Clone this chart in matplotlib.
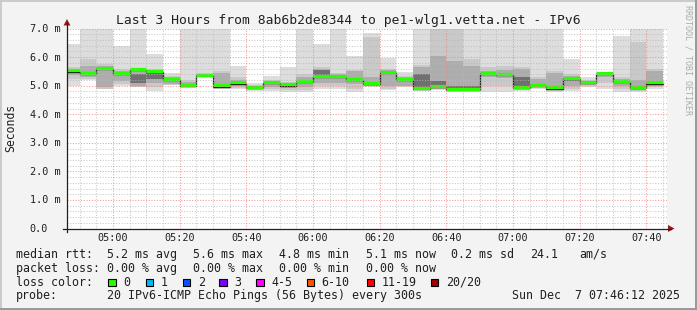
import numpy as np
import matplotlib
matplotlib.use("Agg")
import matplotlib.pyplot as plt
import matplotlib.transforms as mtransforms
from matplotlib.patches import Rectangle, Polygon
from matplotlib.lines import Line2D

# ---------------- data (milliseconds), one value per 5-minute step ----------------
step_start_min = 4 * 60 + 45          # first step starts 04:45
step_minutes = 5
view_start_min = 4 * 60 + 46.2        # 04:46:12
view_end_min = 7 * 60 + 46.2          # 07:46:12

median = [5.49, 5.40, 5.58, 5.40, 5.54, 5.48, 5.19, 4.99, 5.34, 4.97, 5.07, 4.92,
          5.08, 5.00, 5.13, 5.30, 5.31, 5.19, 5.05, 5.45, 5.19, 4.88, 4.95, 4.85,
          4.84, 5.41, 5.38, 4.92, 4.99, 4.90, 5.23, 5.10, 5.41, 5.13, 4.92, 5.07]
ping_max = [6.45, 7.0, 7.0, 6.39, 7.0, 6.10, 5.43, 7.0, 7.0, 7.0, 5.69, 5.08,
            5.35, 5.64, 7.0, 6.45, 7.0, 6.03, 6.85, 5.97, 5.48, 7.0, 7.0, 7.0,
            7.0, 7.0, 7.0, 7.0, 7.0, 7.0, 5.93, 5.29, 5.43, 6.74, 7.0, 7.0]
ping_min = [4.98, 5.20, 4.87, 5.00, 4.95, 4.82, 5.02, 4.93, 5.30, 4.88, 4.88, 4.82,
            4.82, 4.79, 4.79, 4.90, 4.90, 4.79, 4.96, 4.84, 4.96, 4.82, 4.85, 4.79,
            4.79, 4.79, 4.79, 4.82, 4.90, 4.79, 4.81, 4.96, 4.90, 4.79, 4.79, 4.90]
band2_hi = [5.64, 5.95, 5.75, 5.60, 5.62, 5.60, 5.35, 5.20, 5.45, 5.50, 5.30, 5.03,
            5.20, 5.12, 5.40, 5.65, 5.45, 5.55, 6.70, 5.60, 5.35, 5.72, 7.0, 7.0,
            5.93, 5.64, 5.70, 5.66, 5.30, 5.50, 5.40, 5.20, 5.42, 5.30, 6.53, 5.60]
band2_lo = [5.25, 5.25, 4.90, 5.05, 4.97, 4.95, 5.03, 4.94, 5.31, 4.90, 4.92, 4.85,
            4.88, 4.85, 4.85, 4.98, 4.98, 4.90, 4.98, 4.90, 4.98, 4.84, 4.87, 4.81,
            4.81, 5.00, 5.00, 4.85, 4.92, 4.82, 4.90, 4.99, 5.10, 4.90, 4.82, 4.95]
band3_hi = [5.55, 5.68, 5.70, 5.50, 5.60, 5.55, 5.30, 5.13, 5.38, 5.45, 5.20, 5.00,
            5.15, 5.05, 5.30, 5.60, 5.40, 5.50, 5.30, 5.55, 5.30, 5.64, 6.04, 5.85,
            5.70, 5.50, 5.55, 5.60, 5.25, 5.45, 5.35, 5.15, 5.42, 5.25, 5.20, 5.50]
band3_lo = [5.38, 5.29, 4.96, 5.15, 5.00, 5.10, 5.05, 4.96, 5.32, 4.95, 5.00, 4.88,
            4.95, 4.92, 4.96, 5.10, 5.10, 5.05, 5.00, 5.00, 5.00, 4.88, 4.90, 4.84,
            4.84, 5.30, 5.28, 4.88, 4.95, 4.85, 5.00, 5.02, 5.30, 5.00, 4.85, 5.00]
band4_hi = [5.51, 5.45, 5.62, 5.43, 5.40, 5.48, 5.22, 5.03, 5.36, 5.05, 5.10, 4.95,
            5.10, 5.02, 5.17, 5.54, 5.34, 5.22, 5.08, 5.48, 5.22, 5.40, 5.15, 5.00,
            5.00, 5.45, 5.42, 5.30, 5.05, 5.00, 5.28, 5.12, 5.42, 5.17, 5.00, 5.12]
band4_lo = [5.46, 5.38, 5.55, 5.36, 5.09, 5.22, 5.16, 4.97, 5.33, 4.97, 5.05, 4.90,
            5.05, 4.97, 5.10, 5.37, 5.28, 5.15, 5.02, 5.40, 5.15, 4.94, 4.97, 4.88,
            4.88, 5.38, 5.35, 4.95, 4.97, 4.88, 5.18, 5.08, 5.40, 5.10, 4.88, 5.05]

x_tick_labels = ["05:00", "05:20", "05:40", "06:00", "06:20", "06:40",
                 "07:00", "07:20", "07:40"]
y_tick_values = [0, 1, 2, 3, 4, 5, 6, 7]
y_tick_labels = ["0.0", "1.0 m", "2.0 m", "3.0 m", "4.0 m", "5.0 m", "6.0 m", "7.0 m"]

title = "Last 3 Hours from 8ab6b2de8344 to pe1-wlg1.vetta.net - IPv6"
rtt_stats = [("5.2", "ms avg"), ("5.6", "ms max"), ("4.8", "ms min"),
             ("5.1", "ms now"), ("0.2", "ms sd")]
rtt_amps = "24.1"
loss_stats = [("0.00", "% avg"), ("0.00", "% max"), ("0.00", "% min"), ("0.00", "% now")]
loss_labels = ["0", "1", "2", "3", "4-5", "6-10", "11-19", "20/20"]
loss_colors = ["#26ff00", "#00b8ff", "#0059ff", "#7e00ff", "#ff00ff",
               "#ff5500", "#ff0000", "#a10000"]
probe_text = "20 IPv6-ICMP Echo Pings (56 Bytes) every 300s"
date_text = "Sun Dec  7 07:46:12 2025"

# ---------------- figure ----------------
W, H = 697, 310
DPI = 100
MONO = "DejaVu Sans Mono"
plt.rcParams["font.family"] = MONO

fig = plt.figure(figsize=(W / DPI, H / DPI), dpi=DPI)
fig.patch.set_facecolor("#f3f3f3")


def fx(px):
    return px / W


def fy(py):
    return 1 - py / H


# frame shading
fig.add_artist(Rectangle((0, fy(2)), 1, 2 / H, transform=fig.transFigure,
                         facecolor="#cbcbcb", edgecolor="none"))
fig.add_artist(Rectangle((0, 0), 2 / W, 1, transform=fig.transFigure,
                         facecolor="#cbcbcb", edgecolor="none"))
fig.add_artist(Rectangle((0, 0), 1, 2 / H, transform=fig.transFigure,
                         facecolor="#9a9a9a", edgecolor="none"))
fig.add_artist(Rectangle((fx(W - 2), 0), 2 / W, 1, transform=fig.transFigure,
                         facecolor="#9a9a9a", edgecolor="none"))

PL, PR, PT, PB = 67, 667, 28.5, 228.5
ax = fig.add_axes([fx(PL), fy(PB), (PR - PL) / W, (PB - PT) / H])
ax.set_facecolor("white")
ax.set_xlim(view_start_min, view_end_min)
ax.set_ylim(0, 7)
for s in ax.spines.values():
    s.set_visible(False)
ax.set_xticks([])
ax.set_yticks([])

n = len(median)
edges = step_start_min + step_minutes * np.arange(n + 1)


def ext(v):
    v = np.asarray(v, dtype=float)
    return np.append(v, v[-1])


bands = [(ping_min, ping_max, "#dddddd"),
         (band2_lo, band2_hi, "#c9c9c9"),
         (band3_lo, band3_hi, "#adadad"),
         (band4_lo, band4_hi, "#707070")]
for lo, hi, c in bands:
    ax.fill_between(edges, ext(lo), ext(hi), step="post", color=c, lw=0, zorder=2)

ax.step(edges, ext(median), where="post", color="#1a1a1a", lw=0.9, zorder=4)
green_tr = mtransforms.offset_copy(ax.transData, fig=fig, x=0, y=1.2, units="dots")
ax.hlines(median, edges[:-1], edges[1:], colors=loss_colors[0], lw=2.3,
          zorder=5, transform=green_tr)

# grid (drawn on top like rrdtool), dotted
minor_kw = dict(color="#b8b8b8", lw=0.75, ls=(0, (1.0, 1.6)), alpha=0.75, zorder=6)
major_kw = dict(color="#f08080", lw=0.75, ls=(0, (1.0, 1.6)), alpha=0.8, zorder=7)
for k in range(36):
    yv = k * 0.2
    if k % 5 == 0:
        continue
    ax.axhline(yv, **minor_kw)
for yv in y_tick_values[1:]:
    ax.axhline(yv, **major_kw)
major_x = [5 * 60 + 20 * i for i in range(len(x_tick_labels))]
t = 4 * 60 + 50
while t <= view_end_min:
    if t not in major_x:
        ax.axvline(t, **minor_kw)
    t += 5
for xv in major_x:
    ax.axvline(xv, **major_kw)

# axes lines and arrows
axis_col = "#202020"
arrow_col = "#9b1b1b"
fig.add_artist(Line2D([fx(63), fx(671)], [fy(PB), fy(PB)], color=axis_col, lw=0.9,
                      transform=fig.transFigure))
fig.add_artist(Line2D([fx(PL), fx(PL)], [fy(232), fy(23)], color=axis_col, lw=0.9,
                      transform=fig.transFigure))
fig.add_artist(Polygon([[fx(PL - 3.5), fy(25.5)], [fx(PL + 3.5), fy(25.5)], [fx(PL), fy(19)]],
                       closed=True, transform=fig.transFigure, color=arrow_col, lw=0))
fig.add_artist(Polygon([[fx(668), fy(PB - 3.5)], [fx(668), fy(PB + 3.5)], [fx(674.5), fy(PB)]],
                       closed=True, transform=fig.transFigure, color=arrow_col, lw=0))

# tick labels
px_per_min = (PR - PL) / (view_end_min - view_start_min)
for xv, lab in zip(major_x, x_tick_labels):
    px = PL + (xv - view_start_min) * px_per_min
    fig.text(fx(px), fy(240.7), lab, ha="center", va="baseline", fontsize=7.3,
             color="#202020", family=MONO)
for yv, lab in zip(y_tick_values, y_tick_labels):
    py = PB - yv * (PB - PT) / 7
    fig.text(fx(29.5), fy(py + 3.5), lab, ha="left", va="baseline", fontsize=7.3,
             color="#202020", family=MONO)

# titles
fig.text(fx(348.5), fy(24), title, ha="center", va="baseline", fontsize=9.4,
         color="#202020", family=MONO)
fig.text(fx(11), fy(127.5), "Seconds", rotation=90, ha="center", va="center",
         fontsize=8.3, color="#202020", family=MONO)
fig.text(fx(688), fy(60), "RRDTOOL / TOBI OETIKER", rotation=270, ha="center",
         va="center", fontsize=6.0, color="#ababab", family=MONO)

# legend
LF = 8.4
tc = "#202020"


def ltext(px, py, s):
    fig.text(fx(px), fy(py), s, ha="left", va="baseline", fontsize=LF, color=tc,
             family=MONO)


b1, b2, b3, b4 = 257.7, 271.6, 285.6, 299.4
ltext(15.5, b1, "median rtt:")
for xpos, (v, u) in zip([107, 193, 279, 365.5, 451], rtt_stats):
    ltext(xpos, b1, f"{v} {u}")
ltext(530, b1, rtt_amps)
ltext(579, b1, "am/s")

ltext(15.5, b2, "packet loss:")
for xpos, (v, u) in zip([107, 193, 279, 365.5], loss_stats):
    ltext(xpos, b2, f"{v} {u}")

ltext(15.5, b3, "loss color:")
sq_x = [108.3, 145.7, 182.7, 219.3, 256, 306.7, 366.7, 430.7]
for sx, lab, col in zip(sq_x, loss_labels, loss_colors):
    fig.add_artist(Rectangle((fx(sx), fy(286)), 7.5 / W, 7.5 / H,
                             transform=fig.transFigure, facecolor=col,
                             edgecolor="#000000", lw=0.8))
    ltext(sx + 15, b3, lab)

ltext(15.5, b4, "probe:")
ltext(107, b4, probe_text)
fig.text(fx(680.5), fy(b4), date_text, ha="right", va="baseline", fontsize=LF,
         color=tc, family=MONO)

fig.savefig("out.png", dpi=DPI, facecolor=fig.get_facecolor())
